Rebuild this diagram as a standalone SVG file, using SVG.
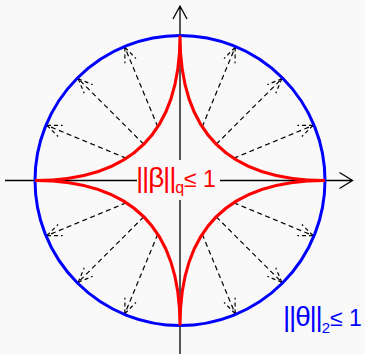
<svg xmlns="http://www.w3.org/2000/svg" width="365" height="354" viewBox="0 0 365 354">
<style>
.ax{stroke:#000;stroke-width:1.3;fill:none}
.dash{stroke:#000;stroke-width:1.2;fill:none;stroke-dasharray:5 3.5;marker-end:url(#ah)}
.lbl{font-family:"Liberation Sans",Arial,sans-serif}
.bars{font-size:28px;letter-spacing:-1.2px}
.le{font-size:23px}
</style>
<defs>
<marker id="ah" markerUnits="userSpaceOnUse" markerWidth="20" markerHeight="20" refX="15" refY="8" orient="auto" overflow="visible">
<path d="M15,8 L0.5,2 M15,8 L0.5,14" stroke="#000" stroke-width="1.2" fill="none" stroke-dasharray="4 3"/>
<circle cx="15" cy="8" r="1.3" fill="#000"/>
</marker>
</defs>
<rect width="365" height="354" fill="#f9f9f9"/>
<g id="axes">
<path class="ax" d="M5,180.5 H352 M339.5,172.5 L352.5,180.5 L339.5,188.5"/>
<path class="ax" d="M180,354 V6 M173,19 L180,6 L187,19"/>
</g>
<g id="connectors">
<path class="dash" d="M233.68,158.27 L313.04,125.39"/>
<path class="dash" d="M216.27,144.23 L281.82,78.68"/>
<path class="dash" d="M202.23,126.82 L235.11,47.46"/>
<path class="dash" d="M126.32,158.27 L46.96,125.39"/>
<path class="dash" d="M143.73,144.23 L78.18,78.68"/>
<path class="dash" d="M157.77,126.82 L124.89,47.46"/>
<path class="dash" d="M126.32,202.73 L46.96,235.61"/>
<path class="dash" d="M143.73,216.77 L78.18,282.32"/>
<path class="dash" d="M157.77,234.18 L124.89,313.54"/>
<path class="dash" d="M233.68,202.73 L313.04,235.61"/>
<path class="dash" d="M216.27,216.77 L281.82,282.32"/>
<path class="dash" d="M202.23,234.18 L235.11,313.54"/>
</g>
<g id="l2ball">
<circle cx="180" cy="180.5" r="145" fill="none" stroke="#0000ff" stroke-width="3"/>
</g>
<g id="lqball">
<path d="M325,180.5 Q180,180.5 180,35.5 Q180,180.5 35,180.5 Q180,180.5 180,325.5 Q180,180.5 325,180.5 Z" fill="none" stroke="#ff0000" stroke-width="3"/>
</g>
<g id="lqlabel">
<rect x="137" y="160" width="83" height="40" fill="#f9f9f9"/>
<text class="lbl" x="136" y="187" fill="#ff0000"><tspan class="bars">||β||</tspan><tspan font-size="16" dy="6">q</tspan><tspan class="le" dy="-6">≤ 1</tspan></text>
</g>
<g id="l2label">
<text class="lbl" x="283" y="326" fill="#0000ff"><tspan class="bars">||θ||</tspan><tspan font-size="15" dy="7">2</tspan><tspan class="le" dy="-7">≤ 1</tspan></text>
</g>
</svg>
